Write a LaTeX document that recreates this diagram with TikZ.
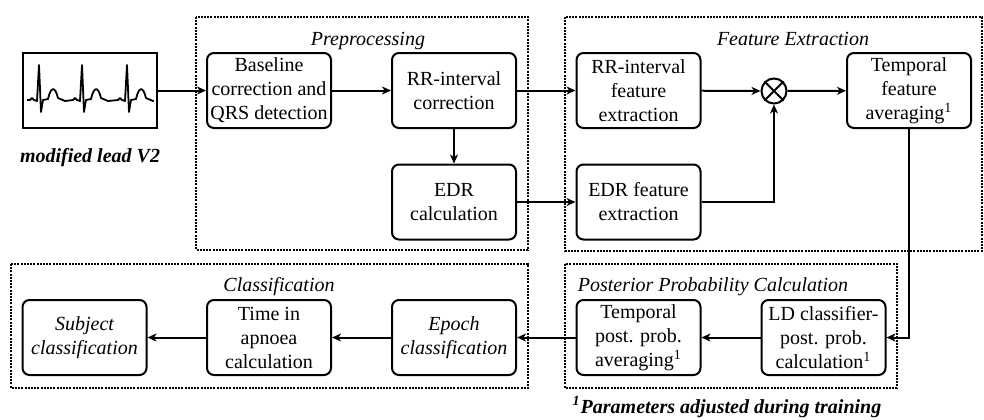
\documentclass[tikz,border=0pt]{standalone}
\usepackage{fontspec}
\setmainfont{Liberation Serif}
\usetikzlibrary{arrows.meta}

\tikzset{
  box/.style={draw, rounded corners=3.5pt, line width=1pt, minimum width=62pt,
    minimum height=37.5pt, inner sep=1pt, align=center,
    font=\fontsize{10}{12}\selectfont},
  frame/.style={line width=1pt, dash pattern=on 1pt off 0.6pt},
  title/.style={font=\fontsize{10}{12}\selectfont\itshape},
  arr/.style={line width=1pt, -{Stealth[length=4.5pt,width=4pt,inset=1.3pt]}},
}

\begin{document}
\begin{tikzpicture}[x=0.5pt,y=-0.5pt]
  \useasboundingbox (0,0) rectangle (984,419);

  % dotted groups
  \draw[frame] (196,17) rectangle (528,250);
  \draw[frame] (565,17) rectangle (982,251);
  \draw[frame] (11,264) rectangle (528,388);
  \draw[frame] (565,264) rectangle (897,388);
  \node[title] (tpre) at (368,41) {Preprocessing};
  \node[title] (tfeat) at (793,39) {Feature Extraction};
  \node[title] (tcls) at (279,287) {Classification};
  \node[title] (tpost) at (713,287) {Posterior Probability Calculation};

  % ECG input
  \node[draw, line width=1pt, minimum width=67pt, minimum height=37.5pt] (ecg) at (90,90.5) {};
  \draw[line width=0.9pt, line join=round] (27,100)
    \foreach \c in {39,82,127} {
      -- (\c-9,100) -- (\c-7,98) -- (\c-5,100) -- (\c-2,101) -- (\c,65) -- (\c+2,112)
      -- (\c+4,100) -- (\c+9,99) .. controls (\c+12,86) and (\c+16,86) .. (\c+19,98)
      -- (\c+26,101) }
    -- (153,100);
  \node[font=\fontsize{10}{12}\selectfont\bfseries\itshape] (lead) at (90,158) {modified lead V2};

  % preprocessing
  \node[box] (base) at (269,90.5) {Baseline\\correction and\\QRS detection};
  \node[box] (rrc) at (454,90.5) {RR-interval\\correction};
  \node[box] (edr) at (454,202) {EDR\\calculation};

  % feature extraction
  \node[box] (rrf) at (638.5,90.5) {RR-interval\\feature\\extraction};
  \node[box] (edrf) at (638.5,202) {EDR feature\\extraction};
  \node[draw, circle, line width=1pt, minimum size=12.5pt, inner sep=0pt] (mult) at (774,91) {};
  \draw[line width=1pt] (mult.north west) -- (mult.south east) (mult.north east) -- (mult.south west);
  \node[box] (tfa) at (909,90.5) {Temporal\\feature\\averaging\textsuperscript{1}};

  % posterior probability
  \node[box] (ld) at (823.5,337.5) {LD classifier-\\post. prob.\\calculation\textsuperscript{1}};
  \node[box] (tpp) at (638.5,337.5) {Temporal\\post. prob.\\averaging\textsuperscript{1}};

  % classification
  \node[box, font=\fontsize{10}{12}\selectfont\itshape] (epoch) at (454,337.5) {Epoch\\classification};
  \node[box] (time) at (269,337.5) {Time in\\apnoea\\calculation};
  \node[box, font=\fontsize{10}{12}\selectfont\itshape] (subj) at (84.5,337.5) {Subject\\classification};

  \node[font=\fontsize{10}{12}\selectfont\bfseries\itshape] (note) at (727,407)
    {\textsuperscript{1}Parameters adjusted during training};

  % connectors
  \draw[arr] (ecg) -- (base);
  \draw[arr] (base) -- (rrc);
  \draw[arr] (rrc) -- (edr);
  \draw[arr] (rrc) -- (rrf);
  \draw[arr] (edr) -- (edrf);
  \draw[arr] (rrf) -- (mult);
  \draw[arr] (edrf) -| (mult);
  \draw[arr] (mult) -- (tfa);
  \draw[arr] (tfa) |- (ld);
  \draw[arr] (ld) -- (tpp);
  \draw[arr] (tpp) -- (epoch);
  \draw[arr] (epoch) -- (time);
  \draw[arr] (time) -- (subj);
\end{tikzpicture}
\end{document}
